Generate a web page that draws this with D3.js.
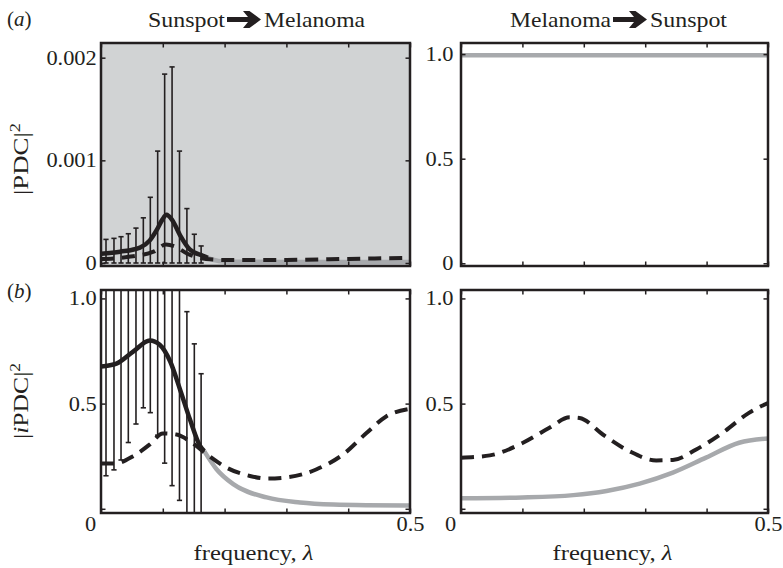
<!DOCTYPE html>
<html>
<head>
<meta charset="utf-8">
<script src="https://cdn.jsdelivr.net/npm/d3@7"></script>
<style>
  body { margin: 0; background: #fff; }
  text { font-family: "Liberation Serif", "Times New Roman", serif; fill: #231f20; }
</style>
</head>
<body>
<svg width="783" height="568"></svg>
<script>
// ---- data ----
const xTickVals = [0, 0.1, 0.2, 0.3, 0.4, 0.5];
const xTickLabels = ["0", "", "", "", "", "0.5"];
const yTickValsPDC = [0, 0.001, 0.002];
const yTickLabelsPDC = ["0", "0.001", "0.002"];
const yTickValsUnit = [0, 0.5, 1.0];
const yTickLabelsTop = ["0", "0.5", "1.0"];
const yTickLabelsBottom = ["", "0.5", "1.0"];

// (a) left: |PDC|^2 sunspot -> melanoma
const pdcSMFreq = [0, 0.031, 0.063, 0.079, 0.090, 0.099, 0.106, 0.115, 0.128, 0.144, 0.165, 0.173, 0.19, 0.21, 0.3, 0.4, 0.5];
const pdcSMValue = [0.00009, 0.00011, 0.00015, 0.00022, 0.00032, 0.00042, 0.00047, 0.00042, 0.00027, 0.00013, 0.00007, 0.00005, 0.00002, 0.000012, 0.00001, 0.00001, 0.00001];
const pdcSMSigUntil = 0.173;
const pdcSMDashFreq = [0, 0.02, 0.045, 0.085, 0.105, 0.12, 0.14, 0.17, 0.2, 0.3, 0.4, 0.5];
const pdcSMDashValue = [0.00004, 0.000045, 0.00006, 0.00011, 0.00018, 0.00016, 0.00009, 0.00004, 0.00003, 0.00003, 0.00004, 0.00005];
const errFreq = [0.0081, 0.021, 0.0324, 0.0442, 0.0566, 0.0685, 0.0798, 0.0917, 0.103, 0.115, 0.127, 0.139, 0.151, 0.162];
const pdcSMErrHigh = [0.00023, 0.00024, 0.000256, 0.000285, 0.00034, 0.00044, 0.00064, 0.00109, 0.00184, 0.00191, 0.00109, 0.00053, 0.00028, 0.000166];
const pdcSMErrLow = [0, 0, 0, 0, 0, 0, 0, 0, 0, 0, 0, 0, 0, 0];

// (a) right: |PDC|^2 melanoma -> sunspot
const pdcMSFreq = [0, 0.5];
const pdcMSValue = [0.995, 0.995];

// (b) left: |iPDC|^2 sunspot -> melanoma
const ipdcSMFreq = [0, 0.025, 0.052, 0.079, 0.095, 0.112, 0.128, 0.144, 0.16, 0.167, 0.187, 0.214, 0.268, 0.322, 0.376, 0.43, 0.5];
const ipdcSMValue = [0.676, 0.69, 0.747, 0.80, 0.78, 0.70, 0.566, 0.424, 0.30, 0.274, 0.188, 0.117, 0.054, 0.03, 0.02, 0.017, 0.016];
const ipdcSMSigUntil = 0.167;
const ipdcSMDashFreq = [0, 0.023, 0.052, 0.079, 0.1, 0.122, 0.147, 0.171, 0.203, 0.241, 0.268, 0.30, 0.349, 0.392, 0.43, 0.462, 0.5];
const ipdcSMDashValue = [0.215, 0.215, 0.25, 0.306, 0.358, 0.353, 0.314, 0.259, 0.196, 0.156, 0.144, 0.149, 0.188, 0.259, 0.361, 0.44, 0.475];
const ipdcSMErrHigh = [1.2, 1.2, 1.2, 1.2, 1.2, 1.2, 1.2, 1.2, 1.2, 1.2, 1.2, 0.937, 0.784, 0.642];
const ipdcSMErrLow = [0.157, 0.185, 0.232, 0.315, 0.403, 0.48, 0.457, 0.35, 0.217, 0.11, 0.04, -0.05, -0.05, -0.05];

// (b) right: |iPDC|^2 melanoma -> sunspot
const ipdcMSFreq = [0, 0.1, 0.183, 0.237, 0.291, 0.345, 0.399, 0.453, 0.5];
const ipdcMSValue = [0.05, 0.054, 0.065, 0.085, 0.12, 0.172, 0.243, 0.314, 0.334];
const ipdcMSSigUntil = -1;
const ipdcMSDashFreq = [0, 0.047, 0.101, 0.144, 0.177, 0.193, 0.231, 0.274, 0.318, 0.345, 0.383, 0.426, 0.469, 0.5];
const ipdcMSDashValue = [0.243, 0.254, 0.314, 0.385, 0.435, 0.432, 0.353, 0.274, 0.23, 0.232, 0.282, 0.361, 0.456, 0.503];

// ---- drawing ----
const svg = d3.select("svg");
const ink = "#231f20";
const grey = "#a7a9ac";
const sx = 1.12; // glyphs in the figure are a bit wide

const zip = (a, b) => a.map((d, i) => [d, b[i]]);

const panels = [
    { x0: 101, x1: 410, y0: 43, y1: 266, yDomain: [-0.0000292, 0.002143], yTicks: yTickValsPDC, yLabels: yTickLabelsPDC, pad: 3.8, bg: "#d1d3d4",
      solid: zip(pdcSMFreq, pdcSMValue), sigUntil: pdcSMSigUntil, dashed: zip(pdcSMDashFreq, pdcSMDashValue),
      err: errFreq.map((f, i) => ({ f, lo: pdcSMErrLow[i], hi: pdcSMErrHigh[i] })), xLabels: false },
    { x0: 461, x1: 768, y0: 43, y1: 266, yDomain: [-0.013, 1.053], yTicks: yTickValsUnit, yLabels: yTickLabelsTop, pad: 6.7,
      solid: zip(pdcMSFreq, pdcMSValue), sigUntil: -1, dashed: null, err: [], xLabels: false },
    { x0: 101, x1: 410, y0: 290, y1: 513, yDomain: [-0.02, 1.04], yTicks: yTickValsUnit, yLabels: yTickLabelsBottom, pad: 3.8,
      solid: zip(ipdcSMFreq, ipdcSMValue), sigUntil: ipdcSMSigUntil, dashed: zip(ipdcSMDashFreq, ipdcSMDashValue),
      err: errFreq.map((f, i) => ({ f, lo: ipdcSMErrLow[i], hi: ipdcSMErrHigh[i] })), xLabels: true },
    { x0: 461, x1: 768, y0: 290, y1: 513, yDomain: [-0.02, 1.04], yTicks: yTickValsUnit, yLabels: yTickLabelsBottom, pad: 6.7,
      solid: zip(ipdcMSFreq, ipdcMSValue), sigUntil: ipdcMSSigUntil, dashed: zip(ipdcMSDashFreq, ipdcMSDashValue), err: [], xLabels: true }
];

panels.forEach((p, k) => {
    const x = d3.scaleLinear().domain([0, 0.5]).range([p.x0, p.x1]);
    const y = d3.scaleLinear().domain(p.yDomain).range([p.y1, p.y0]);
    const g = svg.append("g");

    g.append("clipPath").attr("id", "clip" + k)
        .append("rect")
        .attr("x", p.x0).attr("y", p.y0)
        .attr("width", p.x1 - p.x0).attr("height", p.y1 - p.y0);

    if (p.bg) {
        g.append("rect")
            .attr("x", p.x0).attr("y", p.y0)
            .attr("width", p.x1 - p.x0).attr("height", p.y1 - p.y0)
            .attr("fill", p.bg);
    }

    const plot = g.append("g").attr("clip-path", `url(#clip${k})`);

    // error bars
    const eb = plot.selectAll(".eb").data(p.err).enter().append("g").attr("class", "eb")
        .attr("stroke", ink).attr("stroke-width", 1.6);
    eb.append("line")
        .attr("x1", d => x(d.f)).attr("x2", d => x(d.f))
        .attr("y1", d => y(d.lo)).attr("y2", d => y(d.hi));
    eb.append("line")
        .attr("x1", d => x(d.f) - 2.6).attr("x2", d => x(d.f) + 2.6)
        .attr("y1", d => y(d.hi)).attr("y2", d => y(d.hi));
    eb.append("line")
        .attr("x1", d => x(d.f) - 2.6).attr("x2", d => x(d.f) + 2.6)
        .attr("y1", d => y(d.lo)).attr("y2", d => y(d.lo));

    const line = d3.line().x(d => x(d[0])).y(d => y(d[1])).curve(d3.curveMonotoneX);

    const sig = p.solid.filter(d => d[0] <= p.sigUntil);
    const nonSig = p.solid.filter(d => d[0] >= p.sigUntil);

    plot.append("path").attr("d", line(nonSig))
        .attr("fill", "none").attr("stroke", grey).attr("stroke-width", 4.5);

    if (p.dashed) {
        plot.append("path").attr("d", line(p.dashed))
            .attr("fill", "none").attr("stroke", ink).attr("stroke-width", 4)
            .attr("stroke-dasharray", "13,8");
    }

    if (sig.length > 1) {
        plot.append("path").attr("d", line(sig))
            .attr("fill", "none").attr("stroke", ink).attr("stroke-width", 4.5)
            .attr("stroke-linejoin", "round");
    }

    // axes with inward ticks
    const styleAxis = a => {
        a.select(".domain").remove();
        a.selectAll(".tick line").attr("stroke", ink).attr("stroke-width", 1.5);
        a.selectAll(".tick text")
            .attr("font-size", 20)
            .attr("font-family", "Liberation Serif")
            .attr("fill", ink)
            .attr("transform", `scale(${sx},1)`);
    };

    const yl = g.append("g").attr("transform", `translate(${p.x0},0)`)
        .call(d3.axisLeft(y).tickValues(p.yTicks).tickFormat((d, i) => p.yLabels[i])
            .tickSizeInner(-4.5).tickSizeOuter(0).tickPadding(p.pad));
    styleAxis(yl);

    const yr = g.append("g").attr("transform", `translate(${p.x1},0)`)
        .call(d3.axisRight(y).tickValues(p.yTicks).tickFormat("")
            .tickSizeInner(-4.5).tickSizeOuter(0));
    styleAxis(yr);

    const xt = g.append("g").attr("transform", `translate(0,${p.y0})`)
        .call(d3.axisTop(x).tickValues(xTickVals).tickFormat("")
            .tickSizeInner(-4.5).tickSizeOuter(0));
    styleAxis(xt);

    const xb = g.append("g").attr("transform", `translate(0,${p.y1})`)
        .call(d3.axisBottom(x).tickValues(xTickVals)
            .tickFormat((d, i) => p.xLabels ? xTickLabels[i] : "")
            .tickSizeInner(-4.5).tickSizeOuter(0).tickPadding(4));
    styleAxis(xb);
    xb.selectAll(".tick text").filter(d => d === 0).attr("x", -11 / sx);

    g.append("rect")
        .attr("x", p.x0).attr("y", p.y0)
        .attr("width", p.x1 - p.x0).attr("height", p.y1 - p.y0)
        .attr("fill", "none").attr("stroke", ink).attr("stroke-width", 2.5);

    if (p.xLabels) {
        const t = svg.append("text")
            .attr("x", (p.x0 + p.x1) / 2 - 2).attr("y", 560)
            .attr("text-anchor", "middle").attr("font-size", 21)
            .attr("textLength", 120).attr("lengthAdjust", "spacingAndGlyphs");
        t.append("tspan").text("frequency, ");
        t.append("tspan").attr("font-style", "italic").text("λ");
    }
});

// titles with heavy arrows
const arrow = "M0,-2.6 L21,-2.6 L16,-8.5 L22.5,-8.5 L34,0 L22.5,8.5 L16,8.5 L21,2.6 L0,2.6 Z";
const titles = [
    { from: "Sunspot", to: "Melanoma", ax: 227 },
    { from: "Melanoma", to: "Sunspot", ax: 613 }
];
titles.forEach(t => {
    svg.append("text").attr("x", t.ax - 2).attr("y", 26.5).attr("text-anchor", "end")
        .attr("font-size", 21).text(t.from)
        .attr("textLength", t.from === "Sunspot" ? 77 : 101).attr("lengthAdjust", "spacingAndGlyphs");
    svg.append("path").attr("d", arrow).attr("transform", `translate(${t.ax},19.5)`).attr("fill", ink);
    svg.append("text").attr("x", t.ax + 37).attr("y", 26.5).attr("text-anchor", "start")
        .attr("font-size", 21).text(t.to)
        .attr("textLength", t.to === "Sunspot" ? 77 : 101).attr("lengthAdjust", "spacingAndGlyphs");
});

// panel letters
[["a", 26], ["b", 298]].forEach(([l, yy]) => {
    const t = svg.append("text").attr("x", 7).attr("y", yy).attr("font-size", 21);
    t.append("tspan").text("(");
    t.append("tspan").attr("font-style", "italic").text(l);
    t.append("tspan").text(")");
});

// y-axis titles
const yt1 = svg.append("text").attr("transform", "translate(28,159) rotate(-90)")
    .attr("text-anchor", "middle").attr("font-size", 22)
    .attr("textLength", 72).attr("lengthAdjust", "spacingAndGlyphs");
yt1.append("tspan").text("|PDC|");
yt1.append("tspan").attr("font-size", 15).attr("dy", -8).text("2");

const yt2 = svg.append("text").attr("transform", "translate(28,401) rotate(-90)")
    .attr("text-anchor", "middle").attr("font-size", 22)
    .attr("textLength", 76).attr("lengthAdjust", "spacingAndGlyphs");
yt2.append("tspan").text("|");
yt2.append("tspan").attr("font-style", "italic").text("i");
yt2.append("tspan").text("PDC|");
yt2.append("tspan").attr("font-size", 15).attr("dy", -8).text("2");
</script>
</body>
</html>
